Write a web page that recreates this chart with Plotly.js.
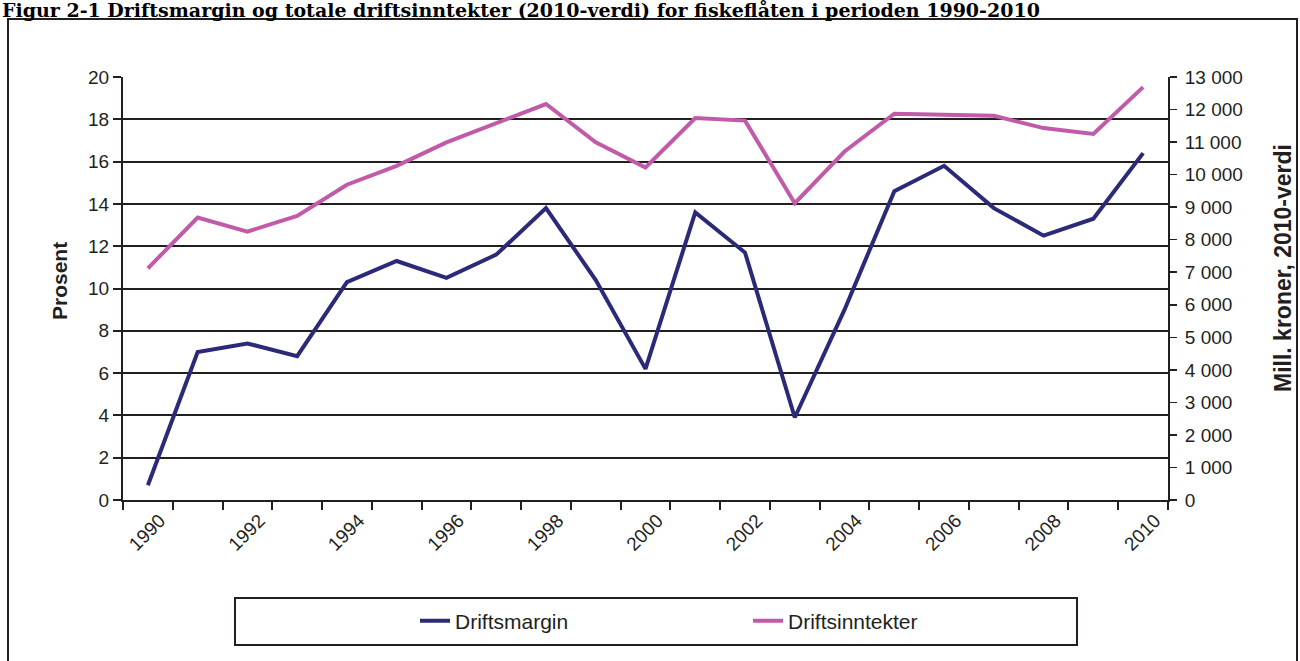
<!DOCTYPE html>
<html>
<head>
<meta charset="utf-8">
<script src="https://cdn.plot.ly/plotly-3.0.1.min.js"></script>
<style>html,body{margin:0;padding:0;background:#fff;}#chart{width:1300px;height:661px;}</style>
</head>
<body>
<div id="chart"></div>
<script>
// ---- data ----
const years = [1990,1991,1992,1993,1994,1995,1996,1997,1998,1999,2000,2001,2002,2003,2004,2005,2006,2007,2008,2009,2010];
const driftsmargin = [0.7,7.0,7.4,6.8,10.3,11.3,10.5,11.6,13.8,10.4,6.2,13.6,11.7,3.9,9.0,14.6,15.8,13.8,12.5,13.3,16.4];
const driftsinntekter = [7120,8680,8250,8730,9690,10270,10990,11580,12170,10990,10220,11740,11660,9120,10710,11870,11840,11810,11430,11250,12690];
const tickLabels = years.map((y,i)=> i%2===0 ? String(y) : '');
const titleText = 'Figur 2-1 Driftsmargin og totale driftsinntekter (2010-verdi) for fiskeflåten i perioden 1990-2010';
const leftTitle = 'Prosent';
const rightTitle = 'Mill. kroner, 2010-verdi';

// ---- layout helpers ----
const W=1300,H=661, L=123, R=1168, T=77, B=500;
const fx = px => (px-L)/(R-L);
const fy = py => (B-py)/(B-T);
const axisCol = '#231f20';
const sans = 'Liberation Sans, Arial, sans-serif';
const tickFont = {family:sans, size:19, color:'#231f20'};

const traces = [
  {x: years.map(String), y: driftsmargin, name:'Driftsmargin', type:'scatter', mode:'lines',
   line:{color:'#2a2a78', width:4}, yaxis:'y'},
  {x: years.map(String), y: driftsinntekter, name:'Driftsinntekter', type:'scatter', mode:'lines',
   line:{color:'#c15aa8', width:4}, yaxis:'y2'}
];

const layout = {
  width:W, height:H,
  margin:{l:L, r:W-R, t:T, b:H-B, pad:0},
  paper_bgcolor:'#fff', plot_bgcolor:'#fff',
  separators:', ',
  showlegend:true,
  font: tickFont,
  xaxis:{
    type:'category', tickson:'boundaries', range:[-0.5, years.length-0.5],
    tickvals: years.map(String), ticktext: tickLabels,
    tickangle:-45, ticklabelshift:12, ticks:'outside', ticklen:8, tickwidth:2, tickcolor:axisCol,
    showline:true, linecolor:axisCol, linewidth:2, showgrid:false, zeroline:false,
    tickfont: tickFont, fixedrange:true
  },
  yaxis:{
    range:[0,20], dtick:2, ticks:'outside', ticklen:8, tickwidth:2, tickcolor:axisCol,
    showline:true, linecolor:axisCol, linewidth:2,
    showgrid:true, gridcolor:'#231f20', gridwidth:2, zeroline:false,
    tickfont: tickFont
  },
  yaxis2:{
    range:[0,13000], dtick:1000, overlaying:'y', side:'right', tickformat:',d',
    ticks:'outside', ticklen:7, tickwidth:1.5, tickcolor:axisCol, ticklabelstandoff:4,
    showline:true, linecolor:axisCol, linewidth:2, showgrid:false, zeroline:false,
    tickfont: tickFont
  },
  legend:{
    orientation:'h', x:fx(415), xanchor:'left', y:fy(621), yanchor:'middle',
    entrywidth:288, entrywidthmode:'pixels',
    bgcolor:'rgba(0,0,0,0)', borderwidth:0,
    font:{family:sans, size:21, color:'#231f20'}
  },
  shapes:[
    {type:'rect', xref:'paper', yref:'paper', x0:fx(8), x1:fx(1297), y0:fy(19), y1:fy(670),
     line:{color:'#231f20', width:2}, fillcolor:'rgba(0,0,0,0)', layer:'below'},
    {type:'rect', xref:'paper', yref:'paper', x0:fx(235), x1:fx(1077), y0:fy(598), y1:fy(645),
     line:{color:'#231f20', width:2}, fillcolor:'rgba(0,0,0,0)', layer:'below'}
  ],
  annotations:[
    {text:'<b>'+titleText+'</b>', xref:'paper', yref:'paper', x:fx(0), xanchor:'left', y:fy(9.5), yanchor:'middle',
     showarrow:false, font:{family:'DejaVu Serif, Liberation Serif, serif', size:19, color:'#000'}},
    {text:'<b>'+leftTitle+'</b>', xref:'paper', yref:'paper', x:fx(59), xanchor:'center', y:fy(281), yanchor:'middle',
     textangle:-90, showarrow:false, font:{family:sans, size:21, color:'#231f20'}},
    {text:'<b>'+rightTitle+'</b>', xref:'paper', yref:'paper', x:fx(1283), xanchor:'center', y:fy(268), yanchor:'middle',
     textangle:-90, showarrow:false, font:{family:sans, size:23, color:'#231f20'}}
  ]
};

Plotly.newPlot('chart', traces, layout, {displayModeBar:false, staticPlot:true});
</script>
</body>
</html>
